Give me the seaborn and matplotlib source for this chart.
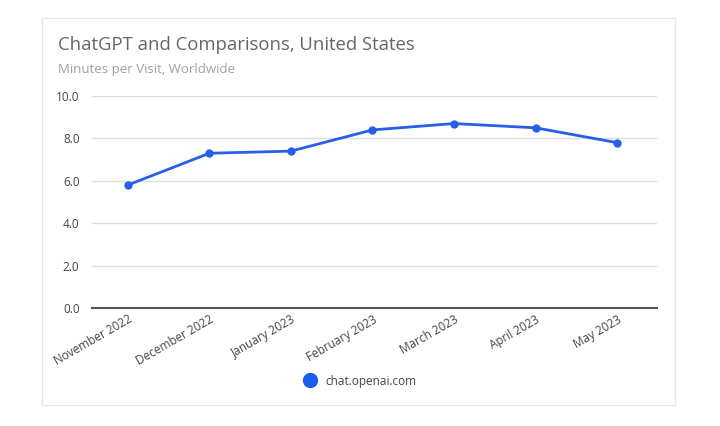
import matplotlib.pyplot as plt
import matplotlib.patches as mpatches
import pandas as pd
import seaborn as sns

months = ['November 2022', 'December 2022', 'January 2023', 'February 2023',
          'March 2023', 'April 2023', 'May 2023']
minutes = [5.8, 7.3, 7.4, 8.4, 8.7, 8.5, 7.8]
y_ticks = [0, 2, 4, 6, 8, 10]
series = 'chat.openai.com'

df = pd.DataFrame({'month': months, 'minutes': minutes})

sns.set_style('white')
plt.rcParams['font.family'] = ['Open Sans', 'DejaVu Sans']

blue = '#2660E8'

fig = plt.figure(figsize=(7.2, 4.26), dpi=100)

# card outline
fig.patches.append(mpatches.Rectangle((42 / 720, 1 - 405 / 426), 633 / 720, 387 / 426,
                                      transform=fig.transFigure, fill=False,
                                      edgecolor='#e6e6e6', linewidth=1))

ax = fig.add_axes([92 / 720, 1 - 308 / 426, 565 / 720, 212 / 426])
sns.lineplot(data=df, x='month', y='minutes', ax=ax, color=blue, linewidth=2,
             marker='o', markersize=6, markeredgewidth=0, sort=False, clip_on=False)

ax.set_xlim(-0.44, 6.49)
ax.set_ylim(0, 10)
ax.set_yticks(y_ticks)
ax.set_yticklabels([f'{v:.1f}' for v in y_ticks])
ax.grid(axis='y', color='#dcdcdc', linewidth=1)
ax.set_axisbelow(True)
for s in ['top', 'right', 'left']:
    ax.spines[s].set_visible(False)
ax.spines['bottom'].set_color('#555555')
ax.spines['bottom'].set_linewidth(1.5)
ax.tick_params(axis='both', length=0, labelsize=8.5, colors='#444444')
ax.tick_params(axis='y', pad=9)
plt.setp(ax.get_xticklabels(), rotation=30, ha='right', rotation_mode='anchor')
ax.set_xlabel('')
ax.set_ylabel('')

fig.text(58 / 720, 1 - 45 / 426, 'ChatGPT and Comparisons, United States',
         fontsize=13.3, color='#666666', va='center')
fig.text(58 / 720, 1 - 70 / 426, 'Minutes per Visit, Worldwide',
         fontsize=9.5, color='#a0a0a0', va='center')

# legend
fig.legend(handles=[plt.Line2D([], [], marker='o', linestyle='', color='#1a5cf0',
                               markersize=10, label=series)],
           loc='center', bbox_to_anchor=(357 / 720, 1 - 381 / 426), frameon=False,
           fontsize=8.5, handletextpad=0.3, labelcolor='#444444')

fig.savefig('out.png', dpi=100, facecolor='white')
